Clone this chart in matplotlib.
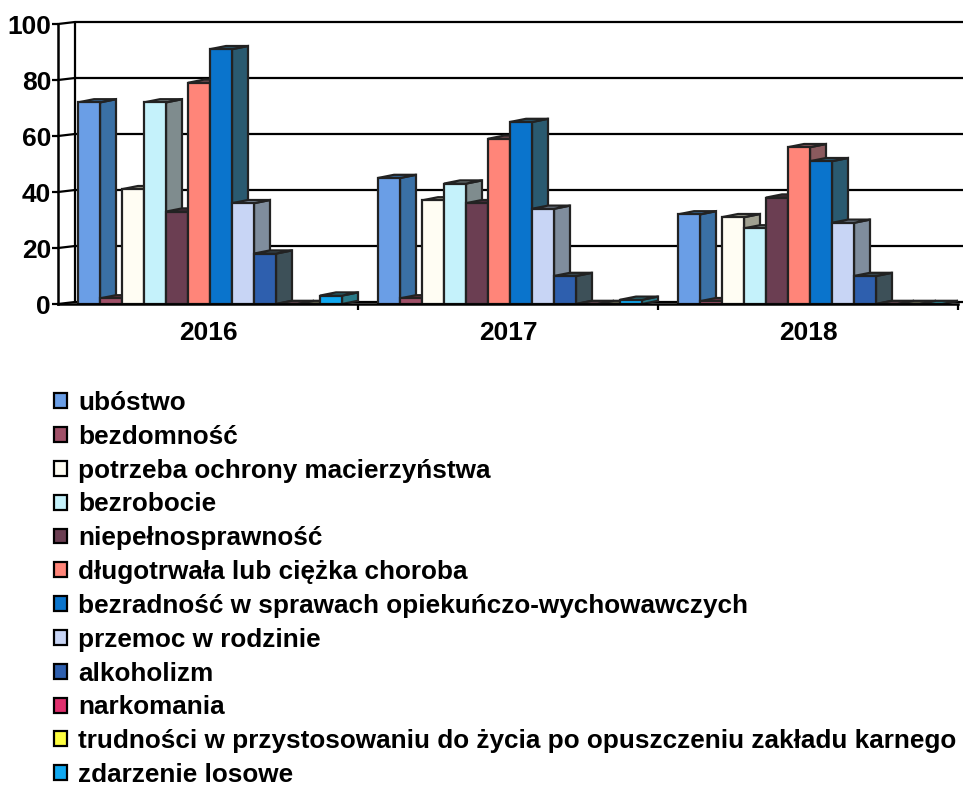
import matplotlib
matplotlib.use("Agg")
import matplotlib.pyplot as plt
from matplotlib.patches import Polygon, Patch

# ---------------- data ----------------
categories = ["2016", "2017", "2018"]
series_names = [
    "ubóstwo",
    "bezdomność",
    "potrzeba ochrony macierzyństwa",
    "bezrobocie",
    "niepełnosprawność",
    "długotrwała lub ciężka choroba",
    "bezradność w sprawach opiekuńczo-wychowawczych",
    "przemoc w rodzinie",
    "alkoholizm",
    "narkomania",
    "trudności w przystosowaniu do życia po opuszczeniu zakładu karnego",
    "zdarzenie losowe",
]
ubostwo = [72, 45, 32]
bezdomnosc = [2, 2, 1]
potrzeba = [41, 37, 31]
bezrobocie = [72, 43, 27]
niepelnosprawnosc = [33, 36, 38]
choroba = [79, 59, 56]
bezradnosc = [91, 65, 51]
przemoc = [36, 34, 29]
alkoholizm = [18, 10, 10]
narkomania = [0, 0, 0]
trudnosci = [0, 0, 0]
zdarzenie = [3, 1.5, 0]
values = [ubostwo, bezdomnosc, potrzeba, bezrobocie, niepelnosprawnosc, choroba,
          bezradnosc, przemoc, alkoholizm, narkomania, trudnosci, zdarzenie]
yticks = [0, 20, 40, 60, 80, 100]

# ---------------- styles ----------------
front_colors = ["#6a9ee6", "#a05068", "#fffdf3", "#c5f2fb", "#6b3e52", "#ff8579",
                "#0a74cc", "#c8d5f5", "#2e5fae", "#e0306e", "#ffff40", "#10a8f0"]
side_colors = ["#3a70a5", "#6a3545", "#a0a090", "#7f8c8e", "#4a2e3c", "#8a5a5e",
               "#2a5a70", "#7f8d9d", "#3d5058", "#5a4048", "#5a5a48", "#2a7a88"]
edge = "#222222"
FONT = "Liberation Sans"
FS = 19

W, H = 963, 796
fig = plt.figure(figsize=(W / 100, H / 100), dpi=100)
fig.patch.set_facecolor("white")

px_per_cat = 300.0
px_per_val = 2.8
x_left_px, x_right_px = 58, 963
y0_px = 304
ax = fig.add_axes([x_left_px / W, (H - y0_px) / H,
                   (x_right_px - x_left_px) / W, 101 * px_per_val / H])
xmax = (x_right_px - x_left_px) / px_per_cat
ax.set_xlim(0, xmax)
ax.set_ylim(0, 101)
ax.patch.set_visible(False)

# wall depth
wdx = 17 / px_per_cat
wdy = 2 / px_per_val
# bar geometry
gap0 = 20 / px_per_cat
bw = 22 / px_per_cat
bdx = 16 / px_per_cat
bdy = 3.2 / px_per_val

# back wall gridlines and edge
for v in yticks:
    ax.plot([0, wdx, xmax], [v, v + wdy, v + wdy], color="black", lw=1.6,
            zorder=1, clip_on=False, solid_joinstyle="miter")
ax.plot([wdx, wdx], [wdy, 100 + wdy], color="black", lw=1.6, zorder=1)

# bars
z = 2
for ci in range(len(categories)):
    for si, vals in enumerate(values):
        h = vals[ci]
        x0 = ci + gap0 + si * bw
        x1 = x0 + bw
        side = Polygon([(x1, 0), (x1 + bdx, bdy), (x1 + bdx, h + bdy), (x1, h)],
                       closed=True, facecolor=side_colors[si], edgecolor=edge,
                       lw=1.6, zorder=z, joinstyle="miter")
        top = Polygon([(x0, h), (x1, h), (x1 + bdx, h + bdy), (x0 + bdx, h + bdy)],
                      closed=True, facecolor=side_colors[si], edgecolor=edge,
                      lw=1.6, zorder=z, joinstyle="miter")
        ax.add_patch(side)
        ax.add_patch(top)
        if h > 0:
            front = Polygon([(x0, 0), (x1, 0), (x1, h), (x0, h)], closed=True,
                            facecolor=front_colors[si], edgecolor=edge, lw=1.6,
                            zorder=z, joinstyle="miter")
            ax.add_patch(front)
        z += 1

# spines / axes
for s in ["top", "right"]:
    ax.spines[s].set_visible(False)
ax.spines["left"].set_bounds(0, 100)
ax.spines["bottom"].set_bounds(0, 3)
for s in ["left", "bottom"]:
    ax.spines[s].set_linewidth(1.8)
    ax.spines[s].set_color("black")
    ax.spines[s].set_zorder(100)

ax.set_yticks(yticks)
ax.set_yticklabels([str(v) for v in yticks])
ax.tick_params(axis="y", direction="out", length=4, width=1.6, pad=1,
               labelsize=FS)
ax.set_xticks([0.5 + i for i in range(len(categories))])
ax.set_xticklabels(categories)
ax.set_xticks([1, 2, 3], minor=True)
ax.tick_params(axis="x", which="major", length=0, pad=12, labelsize=FS)
ax.tick_params(axis="x", which="minor", direction="out", length=4, width=1.6)
for lab in ax.get_xticklabels() + ax.get_yticklabels():
    lab.set_fontfamily(FONT)
    lab.set_fontweight("bold")

# legend
handles = [Patch(facecolor=front_colors[i], edgecolor="black", linewidth=1.6)
           for i in range(len(series_names))]
leg = fig.legend(handles, series_names, loc="upper left",
                 bbox_to_anchor=(54 / W, (H - 391) / H),
                 bbox_transform=fig.transFigure, frameon=False,
                 prop={"family": FONT, "weight": "bold", "size": 18.85},
                 handlelength=0.5, handleheight=0.5, handletextpad=0.42,
                 labelspacing=0.375, borderpad=0, borderaxespad=0)

fig.savefig("out.png", dpi=100, facecolor="white")
